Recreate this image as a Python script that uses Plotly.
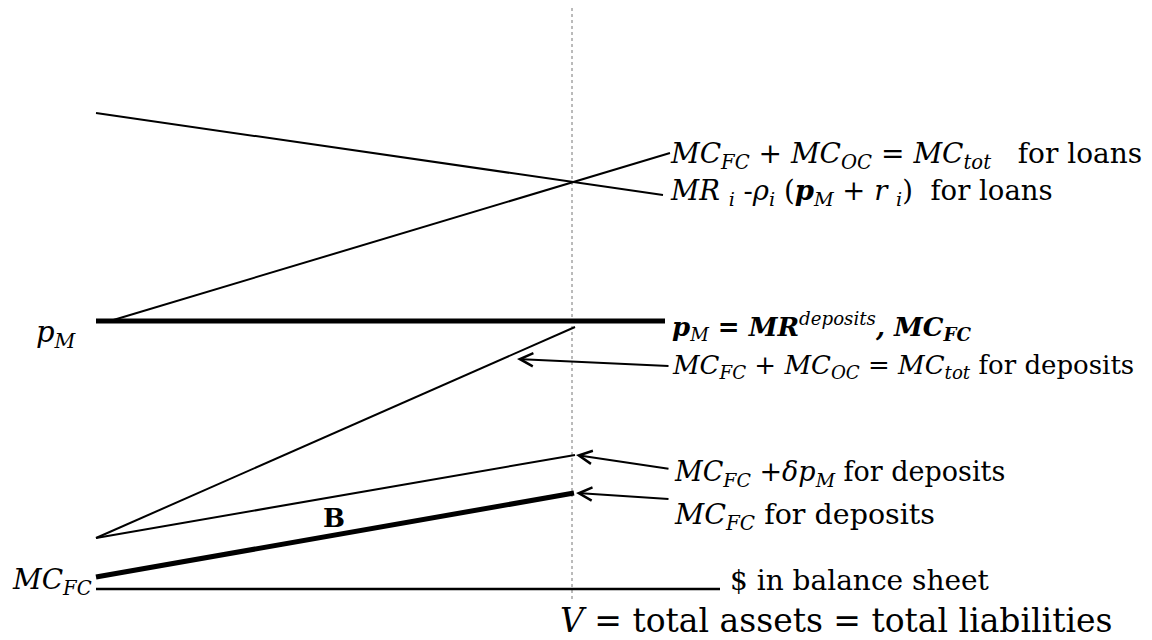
import plotly.graph_objects as go

# Diagram coordinates (horizontal: $ in balance sheet, vertical: price/cost; y grows downward)
V_x = 572
V_line_y = [8, 600]

mr_loans_x = [96, 663]
mr_loans_y = [113, 195]
mc_loans_x = [110, 670]
mc_loans_y = [321, 153]
pm_x = [96, 665]
pm_y = [321, 321]
mctot_dep_x = [96, 575]
mctot_dep_y = [538, 327]
mcdelta_x = [96, 575]
mcdelta_y = [538, 455]
mcfc_x = [96, 574]
mcfc_y = [577, 493]
base_x = [96, 720]
base_y = [589, 589]

# arrows: (tail_x, tail_y, head_x, head_y)
arrows = [
    (670, 366, 517, 359),
    (670, 469, 576, 455),
    (670, 499, 576, 493),
]

labels = [
    (668, 155, "<i>MC</i><sub><i>FC</i></sub> + <i>MC</i><sub><i>OC</i></sub> = <i>MC</i><sub><i>tot</i></sub>   for loans", 28),
    (668, 192, "<i>MR</i> <sub><i>i</i></sub> -<i>ρ</i><sub><i>i</i></sub> (<b><i>p</i></b><sub><i>M</i></sub> + <i>r</i> <sub><i>i</i></sub>)  for loans", 27.5),
    (670, 326, "<b><i>p</i></b><sub><i>M</i></sub><b><i> = MR</i></b><sup><i>deposits</i></sup><b><i>, MC</i></b><sub><b><i>FC</i></b></sub>", 26),
    (670, 366, "<i>MC</i><sub><i>FC</i></sub> + <i>MC</i><sub><i>OC</i></sub> = <i>MC</i><sub><i>tot</i></sub> for deposits", 26),
    (672, 473, "<i>MC</i><sub><i>FC</i></sub> +<i>δp</i><sub><i>M</i></sub> for deposits", 27),
    (672, 516, "<i>MC</i><sub><i>FC</i></sub> for deposits", 28.5),
    (728, 580, "$ in balance sheet", 28),
    (558, 620, "<i>V</i> = total assets = total liabilities", 33),
    (34, 334, "<i>p</i><sub><i>M</i></sub>", 29),
    (10, 581, "<i>MC</i><sub><i>FC</i></sub>", 28),
]
b_label = (334, 518, "<b>B</b>")

fig = go.Figure()

fig.add_trace(go.Scatter(x=[V_x, V_x], y=V_line_y, mode="lines",
                         line=dict(color="#777777", width=1, dash="dot")))
for xs, ys, w in [
    (mr_loans_x, mr_loans_y, 2),
    (mc_loans_x, mc_loans_y, 2),
    (pm_x, pm_y, 5),
    (mctot_dep_x, mctot_dep_y, 2),
    (mcdelta_x, mcdelta_y, 2),
    (mcfc_x, mcfc_y, 5),
    (base_x, base_y, 2.5),
]:
    fig.add_trace(go.Scatter(x=xs, y=ys, mode="lines",
                             line=dict(color="black", width=w)))

for tx, ty, hx, hy in arrows:
    fig.add_annotation(x=hx, y=hy, ax=tx, ay=ty, xref="x", yref="y",
                       axref="x", ayref="y", text="", showarrow=True,
                       arrowhead=5, arrowsize=1.3, arrowwidth=2,
                       arrowcolor="black", standoff=0)

for lx, ly, txt, fs in labels:
    fig.add_annotation(x=lx, y=ly, xref="x", yref="y", text=txt,
                       showarrow=False, xanchor="left", yanchor="middle",
                       font=dict(family="DejaVu Serif", size=fs, color="black"))
fig.add_annotation(x=b_label[0], y=b_label[1], xref="x", yref="y",
                   text=b_label[2], showarrow=False,
                   font=dict(family="DejaVu Serif", size=26, color="black"))

# page body has an 8px margin: shift the plotting frame so data units = window pixels
fig.update_layout(
    width=1144, height=632,
    margin=dict(l=0, r=0, t=0, b=0),
    paper_bgcolor="white", plot_bgcolor="white",
    showlegend=False,
    xaxis=dict(range=[8, 1152], visible=False, fixedrange=True),
    yaxis=dict(range=[640, 8], visible=False, fixedrange=True),
)

fig.write_html("out.html")
